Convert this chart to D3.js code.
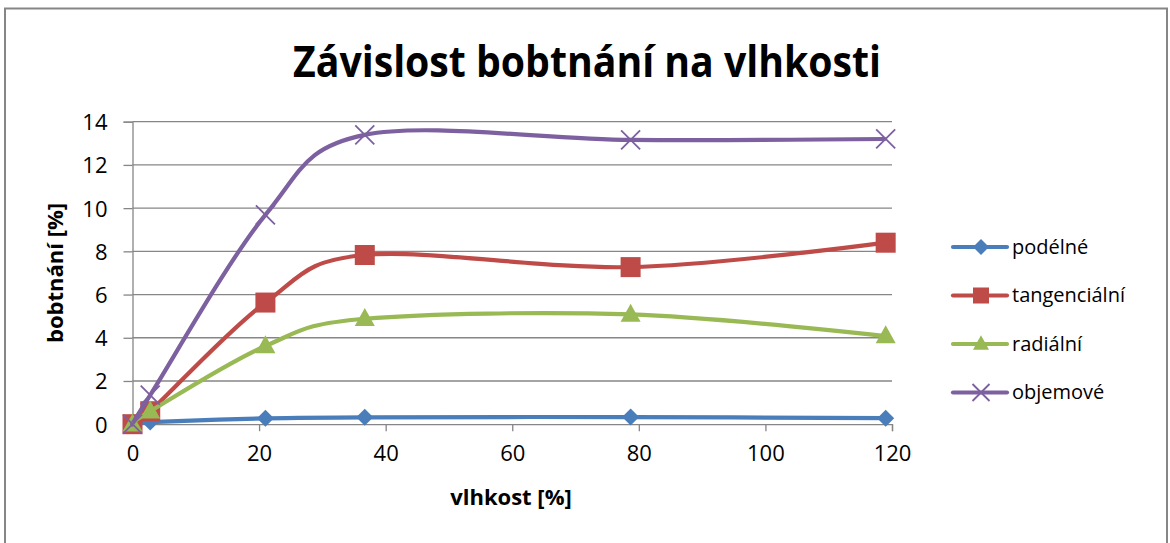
<!DOCTYPE html>
<html>
<head>
<meta charset="utf-8">
<script src="https://cdn.jsdelivr.net/npm/d3@7"></script>
<style>
  html, body { margin: 0; padding: 0; background: #fff; }
  svg { display: block; font-family: "Open Sans", sans-serif; }
</style>
</head>
<body>
<div id="chart"></div>
<script>
// --- Data ---
const xValues = [0, 2.8, 21, 36.7, 78.7, 119];
const podelne = [0, 0.1, 0.27, 0.32, 0.33, 0.28];
const tangencialni = [0, 0.6, 5.63, 7.83, 7.27, 8.4];
const radialni = [0, 0.6, 3.62, 4.88, 5.08, 4.08];
const objemove = [0, 1.35, 9.69, 13.39, 13.16, 13.2];
const xTicks = [0, 20, 40, 60, 80, 100, 120];
const yTicks = [0, 2, 4, 6, 8, 10, 12, 14];

const series = [
  { name: 'podélné', values: podelne, color: '#4A7EBB', marker: 'diamond' },
  { name: 'tangenciální', values: tangencialni, color: '#BE4B48', marker: 'square' },
  { name: 'radiální', values: radialni, color: '#98B954', marker: 'triangle' },
  { name: 'objemové', values: objemove, color: '#7D60A0', marker: 'cross' }
];

const W = 1170, H = 543;
const plot = { left: 132.5, right: 892, top: 121.7, bottom: 424.2 };
const gridColor = '#868686';

const svg = d3.select('#chart').append('svg')
  .attr('width', W).attr('height', H);

// chart frame
svg.append('rect')
  .attr('x', 5).attr('y', 8.5)
  .attr('width', 1162).attr('height', 560)
  .attr('fill', '#fff')
  .attr('stroke', gridColor).attr('stroke-width', 2);

// --- Title ---
svg.append('text')
  .attr('x', 587).attr('y', 77)
  .attr('text-anchor', 'middle')
  .attr('font-size', 43).attr('font-weight', 700)
  .attr('textLength', 588).attr('lengthAdjust', 'spacingAndGlyphs')
  .text('Závislost bobtnání na vlhkosti');

// --- Scales ---
const x = d3.scaleLinear().domain([0, 120]).range([plot.left, plot.right]);
const y = d3.scaleLinear().domain([0, 14]).range([plot.bottom, plot.top]);

// --- Gridlines ---
svg.append('g')
  .selectAll('line')
  .data(yTicks.filter(d => d > 0))
  .join('line')
    .attr('x1', plot.left).attr('x2', plot.right)
    .attr('y1', d => y(d)).attr('y2', d => y(d))
    .attr('stroke', gridColor).attr('stroke-width', 1.3);

// --- Axes ---
const yAxis = svg.append('g')
  .attr('transform', `translate(${plot.left},0)`)
  .call(d3.axisLeft(y).tickValues(yTicks).tickSize(9).tickPadding(16).tickFormat(d3.format('d')));
const xAxis = svg.append('g')
  .attr('transform', `translate(0,${plot.bottom})`)
  .call(d3.axisBottom(x).tickValues(xTicks).tickSize(7).tickPadding(10).tickFormat(d3.format('d')));

[yAxis, xAxis].forEach(ax => {
  ax.select('.domain').attr('stroke', gridColor).attr('stroke-width', 1.3);
  ax.selectAll('.tick line').attr('stroke', gridColor).attr('stroke-width', 1.3);
  ax.selectAll('.tick text')
    .attr('fill', '#000')
    .style('font-family', '"Open Sans", sans-serif')
    .style('font-size', '22px');
});
yAxis.selectAll('.tick text').attr('dy', '0.36em');
xAxis.selectAll('.tick text').attr('dy', '0.92em');

// --- Axis titles ---
svg.append('text')
  .attr('transform', `translate(63,273) rotate(-90)`)
  .attr('text-anchor', 'middle')
  .attr('font-size', 22).attr('font-weight', 700)
  .text('bobtnání [%]');

svg.append('text')
  .attr('x', 511).attr('y', 505)
  .attr('text-anchor', 'middle')
  .attr('font-size', 22).attr('font-weight', 700)
  .text('vlhkost [%]');

// --- Markers ---
function drawMarker(g, type, color, s) {
  if (type === 'diamond') {
    g.append('path')
      .attr('d', `M0,${-s / 2}L${s / 2},0L0,${s / 2}L${-s / 2},0Z`)
      .attr('fill', color);
  } else if (type === 'square') {
    g.append('rect')
      .attr('x', -s / 2).attr('y', -s / 2).attr('width', s).attr('height', s)
      .attr('fill', color);
  } else if (type === 'triangle') {
    const h = s * 0.9;
    g.append('path')
      .attr('d', `M0,${-h * 0.6}L${s / 2},${h * 0.4}L${-s / 2},${h * 0.4}Z`)
      .attr('fill', color);
  } else {
    const r = s / 2;
    g.append('path')
      .attr('d', `M${-r},${-r}L${r},${r}M${-r},${r}L${r},${-r}`)
      .attr('stroke', color).attr('stroke-width', 1.8).attr('fill', 'none');
  }
}

const markerSize = { diamond: 17, square: 20, triangle: 20, cross: 19 };

const line = d3.line()
  .x(d => x(d[0]))
  .y(d => y(d[1]))
  .curve(d3.curveCardinal.tension(0));

series.forEach(s => {
  const pts = xValues.map((xv, i) => [xv, s.values[i]]);
  const g = svg.append('g');
  g.append('path')
    .datum(pts)
    .attr('fill', 'none')
    .attr('stroke', s.color)
    .attr('stroke-width', 4.2)
    .attr('stroke-linejoin', 'round')
    .attr('d', line);
  pts.forEach(p => {
    const m = g.append('g').attr('transform', `translate(${x(p[0])},${y(p[1])})`);
    drawMarker(m, s.marker, s.color, markerSize[s.marker]);
  });
});

// --- Legend ---
const legend = svg.append('g').attr('transform', 'translate(953,247)');
series.forEach((s, i) => {
  const row = legend.append('g').attr('transform', `translate(0,${i * 48.5})`);
  row.append('line')
    .attr('x1', 0).attr('x2', 54)
    .attr('stroke', s.color).attr('stroke-width', 4.2).attr('stroke-linecap', 'round');
  const m = row.append('g').attr('transform', 'translate(28,0)');
  drawMarker(m, s.marker, s.color, s.marker === 'cross' ? 17 : 16);
  row.append('text')
    .attr('x', 59).attr('y', 0).attr('dy', '0.34em')
    .attr('font-size', 20)
    .text(s.name);
});
</script>
</body>
</html>
